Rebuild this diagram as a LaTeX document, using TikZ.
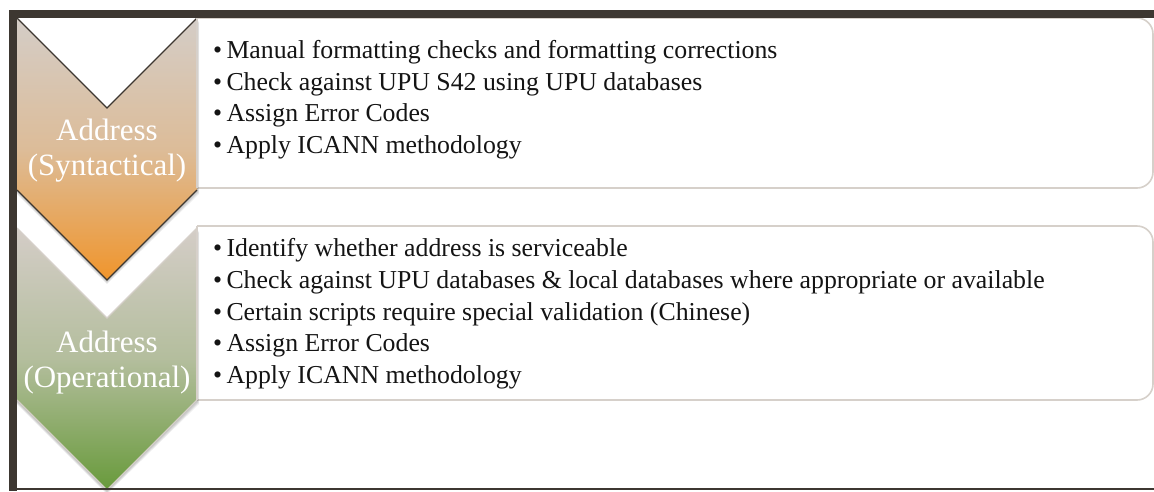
\documentclass[tikz,border=0pt]{standalone}
\usepackage{fontspec}
\setmainfont{Liberation Serif}
\definecolor{framec}{HTML}{3D3731}
\definecolor{chgray}{HTML}{D4CDC7}
\definecolor{chorange}{HTML}{F0952C}
\definecolor{chgreen}{HTML}{689A3B}
\definecolor{boxline}{HTML}{D6D0CA}
\definecolor{txt}{HTML}{141414}
\tikzset{
  listbox/.style={draw=boxline, line width=1.6pt, fill=white, rounded corners=16pt},
  chevtext/.style={text=white, font=\fontsize{31}{35}\selectfont, align=center},
  item/.style={anchor=base west, inner sep=0pt, text=txt, font=\fontsize{25.8}{30}\selectfont},
  shadowc/.style={fill=black, opacity=0.07}
}
\begin{document}
\begin{tikzpicture}[x=1pt,y=-1pt]
\useasboundingbox (0,0) rectangle (1154,491);
\fill[white] (0,0) rectangle (1154,491);
% boxes (left part clipped)
\begin{scope}
\clip (197,0) rectangle (1154,491);
\draw[listbox] (150,18) rectangle (1153,188);
\draw[listbox] (150,226) rectangle (1153,400);
\end{scope}
% shadows of chevrons
\foreach \d in {1,2,3,4}{
  \fill[shadowc] (17+\d*0.5,18+\d) -- (107,108+\d) -- (197+\d*0.5,18+\d) -- (197+\d*0.5,190+\d) -- (107,280+\d) -- (17,190+\d) -- cycle;
  \fill[shadowc] (17+\d*0.5,228+\d) -- (107,318+\d) -- (197+\d*0.5,228+\d) -- (197+\d*0.5,400+\d) -- (107,490+\d) -- (17,400+\d) -- cycle;
}
% chevron 1
\path[top color=chgray, bottom color=chorange, middle color=chgray!70!chorange]
  (17,18) -- (107,108) -- (197,18) -- (197,190) -- (107,280) -- (17,190) -- cycle;
\draw[framec, line width=1.2pt, line join=miter]
  (17,18) -- (107,108) -- (197,18);
\draw[framec, line width=1.2pt, line join=miter]
  (17,190) -- (107,280) -- (197,190);
% chevron 2
\path[top color=chgray, bottom color=chgreen, middle color=chgray!70!chgreen]
  (17,228) -- (107,318) -- (197,228) -- (197,400) -- (107,490) -- (17,400) -- cycle;
\draw[boxline, line width=1.2pt, line join=miter]
  (17,228) -- (107,318) -- (197,228);
\draw[boxline, line width=1.2pt, line join=miter]
  (17,400) -- (107,490) -- (197,400);
% box left edges
\draw[boxline, line width=1.6pt] (197,18) -- (197,188);
\draw[boxline, line width=1.6pt] (197,226) -- (197,400);
% chevron texts
\node[chevtext] (c1) at (107,151) {Address\\(Syntactical)};
\node[chevtext] (c2) at (107,363) {Address\\(Operational)};
% items box 1
\node[item] (a1) at (213,58) {•\,Manual formatting checks and formatting corrections};
\node[item] (a2) at (213,90) {•\,Check against UPU S42 using UPU databases};
\node[item] (a3) at (213,121) {•\,Assign Error Codes};
\node[item] (a4) at (213,153) {•\,Apply ICANN methodology};
% items box 2
\node[item] (b1) at (213,256) {•\,Identify whether address is serviceable};
\node[item] (b2) at (213,288) {•\,Check against UPU databases \& local databases where appropriate or available};
\node[item] (b3) at (213,320) {•\,Certain scripts require special validation (Chinese)};
\node[item] (b4) at (213,351) {•\,Assign Error Codes};
\node[item] (b5) at (213,383) {•\,Apply ICANN methodology};
% frame
\fill[framec] (9,10) rectangle (1154,18);
\fill[framec] (9,10) rectangle (17,491);
\draw[framec, line width=1.5pt] (17,489) -- (1154,489);
\end{tikzpicture}
\end{document}
